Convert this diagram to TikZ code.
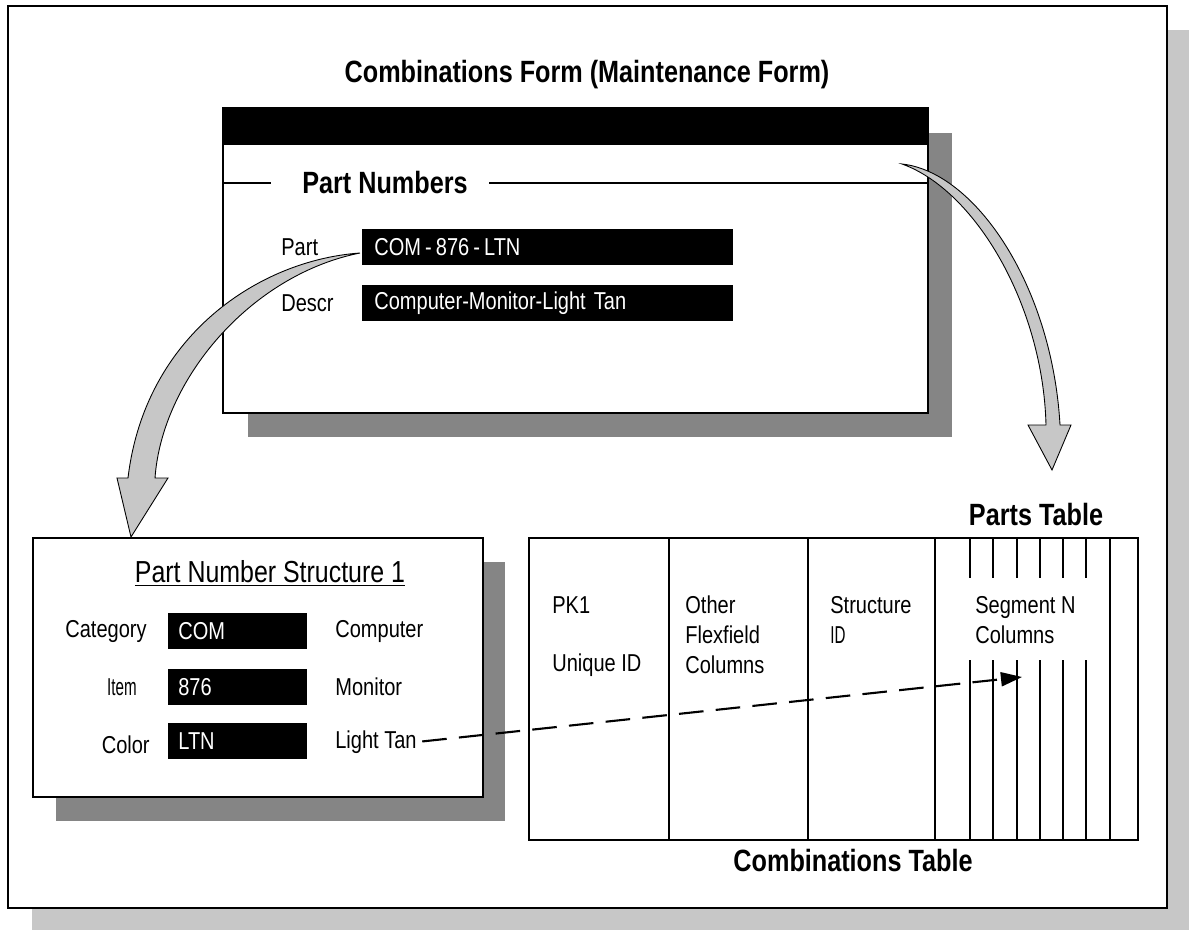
\documentclass[tikz,border=0pt]{standalone}
\usepackage{fontspec}
\setmainfont{Liberation Sans}[FakeStretch=0.82]
\newfontfamily\slimfont{Liberation Sans}[FakeStretch=0.62]
\usetikzlibrary{arrows.meta}
\definecolor{shadedark}{gray}{0.52}
\definecolor{shadelight}{gray}{0.78}
\definecolor{fatgray}{gray}{0.78}
\tikzset{
  bigbold/.style={font=\fontsize{17.5pt}{20pt}\selectfont\bfseries},
  txt/.style={font=\fontsize{13.9pt}{17pt}\selectfont, inner sep=0pt},
  blackfield/.style={txt, fill=black, text=white, anchor=west, minimum height=0.72cm, align=left},
  fatarrow/.style={fill=fatgray, draw=black, line width=0.5pt, line join=miter},
  dasharrow/.style={line width=1.2pt, dash pattern=on 14pt off 7pt, -{Triangle[length=12pt,width=8pt]}},
  colline/.style={line width=1.1pt}
}

\begin{document}
\begin{tikzpicture}[x=0.02cm,y=-0.02cm]
\useasboundingbox (0,0) rectangle (1189,930);
% page frame and its shadow
\fill[shadelight] (32,30) rectangle (1189,930);
\draw[fill=white,line width=0.8pt] (8,6) rectangle (1167,908);

\node[bigbold] (formtitle) at (587,75) {Combinations Form (Maintenance Form)};

% maintenance form window
\fill[shadedark] (248,133) rectangle (952,437);
\draw[fill=white,line width=1pt] (223,108) rectangle (928,413);
\fill (223,108) rectangle (928,145); % title bar
\node[bigbold,inner sep=0pt] (pnhead) at (385,183) {Part Numbers};
\draw[line width=0.8pt] (223,183) -- (271,183);
\draw[line width=0.8pt] (489,183) -- (928,183);
\node[txt,anchor=west] (partlbl) at (281,247) {Part};
\node[blackfield,text width=6.94cm,inner xsep=0.24cm] (partfield) at (362,247) {COM\,-\,876\,-\,LTN};
\node[txt,anchor=west] (descrlbl) at (281,303) {Descr};
\node[blackfield,text width=6.94cm,inner xsep=0.24cm] (descrfield) at (362,303) {Computer-Monitor-Light Tan};

% structure box
\fill[shadedark] (56,562) rectangle (505,821);
\draw[fill=white,line width=1pt] (33,538) rectangle (483,797);
\node[font=\fontsize{17.3pt}{20pt}\selectfont] (structtitle) at (270,573) {\underline{Part Number Structure 1}};
\node[txt,anchor=east] (catlbl) at (147,631) {Category};
\node[blackfield,text width=2.38cm,inner xsep=0.2cm] (catfield) at (168,631) {COM};
\node[txt,anchor=west] (catname) at (335,631) {Computer};
\node[txt,anchor=east] (itemlbl) at (137,687) {\slimfont Item};
\node[blackfield,text width=2.38cm,inner xsep=0.2cm] (itemfield) at (168,687) {876};
\node[txt,anchor=west] (itemname) at (335,687) {Monitor};
\node[txt,anchor=east] (colorlbl) at (150,745) {Color};
\node[blackfield,text width=2.38cm,inner xsep=0.2cm] (colorfield) at (168,741) {LTN};
\node[txt,anchor=west] (tanname) at (335,742) {Light Tan};

% combinations table
\node[bigbold] (partstbl) at (1036,514) {Parts Table};
\draw[line width=0.8pt] (529,538) rectangle (1138,840);
\foreach \x in {669,808,935,1110} \draw[colline] (\x,538) -- (\x,840);
\foreach \x in {970,993,1017,1040,1063,1086} {
  \draw[colline] (\x,538) -- (\x,578);
  \draw[colline] (\x,660) -- (\x,840);
}
\node[txt,anchor=west] (pk) at (552,605) {PK1};
\node[txt,anchor=west] (uid) at (552,665) {Unique ID};
\node[txt,anchor=west,align=left] (other) at (685,635) {Other\\Flexfield\\Columns};
\node[txt,anchor=west,align=left] (structid) at (830,620) {Structure\\{\slimfont ID}};
\node[txt,anchor=west,align=left] (segcols) at (975,620) {Segment N\\Columns};
\node[bigbold] (combtbl) at (853,860) {Combinations Table};

% fat curved arrows
\coordinate (ltail) at (360,253);
\coordinate (ltip) at (131,537);
\filldraw[fatarrow] (ltail) .. controls (260,260) and (145,335) .. (128,478) -- (117,478) -- (ltip)
  -- (168,478) -- (155,478) .. controls (162,380) and (250,275) .. (ltail) -- cycle;
\coordinate (rtail) at (902,164);
\coordinate (rtip) at (1052,470);
\filldraw[fatarrow] (rtail) .. controls (975,172) and (1052,285) .. (1060,425) -- (1071,425) -- (rtip)
  -- (1028,425) -- (1046,425) .. controls (1043,305) and (975,190) .. (rtail) -- cycle;

% segment link
\coordinate (segtip) at (1022,677);
\draw[dasharrow,shorten <=3pt] (tanname.east) -- (segtip);
\end{tikzpicture}
\end{document}
